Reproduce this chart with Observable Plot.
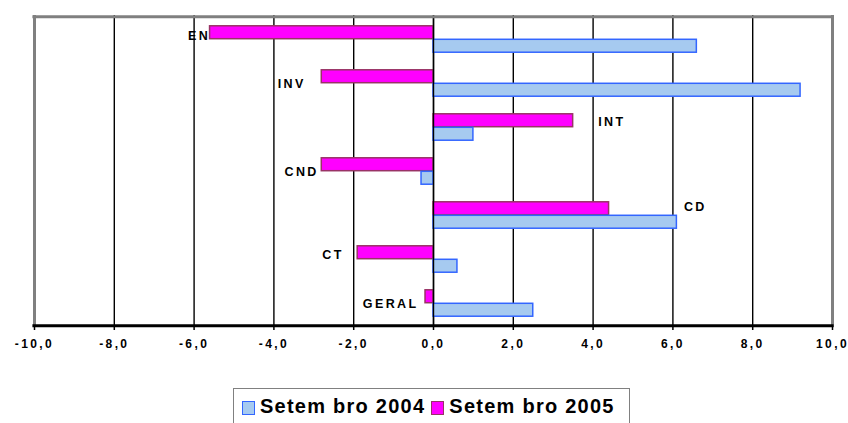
<!DOCTYPE html>
<html>
<head>
<meta charset="utf-8">
<script src="https://cdn.jsdelivr.net/npm/d3@7"></script>
<script src="https://cdn.jsdelivr.net/npm/@observablehq/plot@0.6"></script>
<style>
  html, body { margin: 0; padding: 0; background: #fff; }
  #chart { position: relative; width: 848px; height: 423px; overflow: hidden; font-family: "Liberation Sans", Arial, sans-serif; }
  #legend { position: absolute; left: 233px; top: 388px; width: 397px; height: 40px; border: 1px solid #808080; box-sizing: border-box; display: flex; align-items: flex-start; padding-top: 6px; font-weight: bold; font-size: 20px; color: #000; }
  .sw { display: inline-block; width: 13px; height: 14px; box-sizing: border-box; margin-right: 5px; margin-top: 6px; }
  .item { display: flex; align-items: flex-start; }
  svg text.spaced { letter-spacing: 2.4px; }
</style>
</head>
<body>
<div id="chart"></div>
<script>
const categories = ["EN", "INV", "INT", "CND", "CD", "CT", "GERAL"];
const series = ["Setembro 2004", "Setembro 2005"];
const values2004 = [6.6, 9.2, 1.0, -0.3, 6.1, 0.6, 2.5];
const values2005 = [-5.6, -2.8, 3.5, -2.8, 4.4, -1.9, -0.2];
const xTicks = [-10, -8, -6, -4, -2, 0, 2, 4, 6, 8, 10];

// label placement (style): which side of the bars, and pixel offsets
const labelLayout = {
  EN:    {side: "left",  dx: 0,   dy: -4},
  INV:   {side: "left",  dx: -16, dy: 0},
  INT:   {side: "right", dx: 25,  dy: -6},
  CND:   {side: "left",  dx: -3,  dy: 0},
  CD:    {side: "right", dx: 7,   dy: -9},
  CT:    {side: "left",  dx: -14, dy: -5},
  GERAL: {side: "left",  dx: -7,  dy: 0}
};

const colors = {
  "Setembro 2004": {fill: "#A6CAF0", stroke: "#3366FF"},
  "Setembro 2005": {fill: "#FF00FF", stroke: "#993366"}
};

const rows = categories.map((c, i) => ({cat: c, v2004: values2004[i], v2005: values2005[i]}));
const labels = rows.map(r => {
  const L = labelLayout[r.cat];
  const x = L.side === "left" ? Math.min(r.v2004, r.v2005, 0) : Math.max(r.v2004, r.v2005, 0);
  return {cat: r.cat, x, dx: L.dx, dy: L.dy, anchor: L.side === "left" ? "end" : "start"};
});

const fmt = d => d.toFixed(1).replace(".", ",");
const W = 848, H = 380;
const mt = 15, mb = 53, ml = 34, mr = 16;
const step = (H - mt - mb) / categories.length;
const half = step / 2;
const barH = 13.5;

const marks = [
  Plot.ruleX(xTicks.filter(t => t > -10 && t < 10), {stroke: "#000", strokeWidth: 1.4}),
  Plot.barX(rows, {y: "cat", x1: 0, x2: "v2005", fill: colors["Setembro 2005"].fill, stroke: colors["Setembro 2005"].stroke, strokeWidth: 1.5, insetTop: half - barH, insetBottom: half}),
  Plot.barX(rows, {y: "cat", x1: 0, x2: "v2004", fill: colors["Setembro 2004"].fill, stroke: colors["Setembro 2004"].stroke, strokeWidth: 1.5, insetTop: half, insetBottom: half - barH}),
  Plot.ruleX([0], {stroke: "#000", strokeWidth: 1.4}),
  Plot.ruleX([-10, 10], {stroke: "#808080", strokeWidth: 3}),
  Plot.ruleY([categories[0]], {y: d => d, x1: () => -10.04, x2: () => 10.04, stroke: "#808080", strokeWidth: 3, dy: -half - 0.5}),
  Plot.ruleY([0], {x1: () => -10.04, x2: () => 10.04, y: () => categories[categories.length - 1], dy: half, stroke: "#000", strokeWidth: 3}),
  Plot.axisX({ticks: xTicks, tickFormat: fmt, tickSize: 3, strokeWidth: 1.5, tickPadding: 9, fontSize: 12, fontWeight: "bold", fill: "#000"})
];
for (const l of labels) {
  marks.push(Plot.text([l], {x: "x", y: "cat", text: "cat", dx: l.dx, dy: l.dy, textAnchor: l.anchor, fontSize: 12.5, fontWeight: "bold", fill: "#000", stroke: "none"}));
}

const chart = Plot.plot({
  width: W, height: H,
  marginTop: mt, marginBottom: mb, marginLeft: ml, marginRight: mr,
  style: {fontFamily: "'Liberation Sans', Arial, sans-serif", background: "#fff", overflow: "visible"},
  x: {domain: [-10, 10], axis: null},
  y: {domain: categories, padding: 0, axis: null},
  marks
});
chart.querySelectorAll("text").forEach(t => t.classList.add("spaced"));

const root = document.getElementById("chart");
root.appendChild(chart);

const legend = document.createElement("div");
legend.id = "legend";
legend.innerHTML = series.map((s, i) =>
  `<span class="item" style="margin-left:${i === 0 ? 8 : 6}px"><span class="sw" style="background:${colors[s].fill};border:1.5px solid ${colors[s].stroke}"></span><span style="letter-spacing:1.25px">${s.replace("Setembro", "Setem bro")}</span></span>`
).join("");
root.appendChild(legend);
</script>
</body>
</html>
